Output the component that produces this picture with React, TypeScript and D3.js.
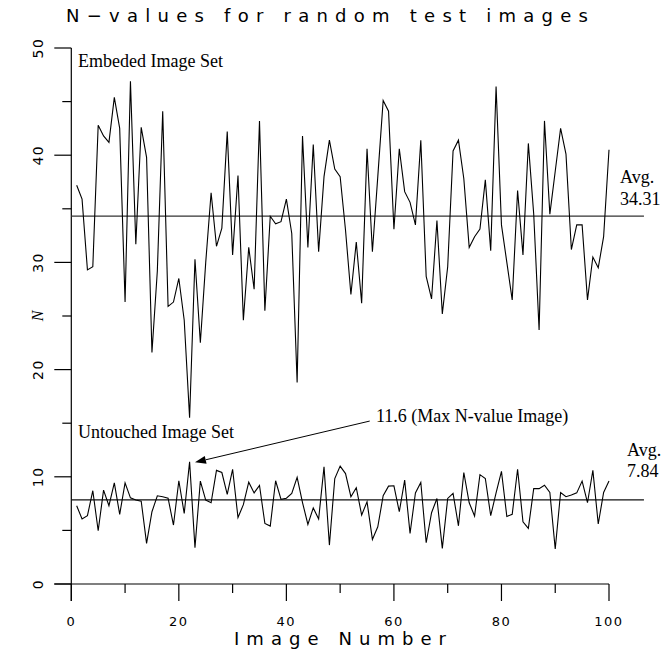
import React from 'react';
import * as d3 from 'd3';

// N-values, image numbers 1..100
const embeddedValues = [
  37.2, 35.9, 29.3, 29.6, 42.8, 41.8, 41.2, 45.4, 42.5, 26.3,
  46.9, 31.7, 42.6, 39.8, 21.6, 29.2, 44.1, 25.9, 26.3, 28.5,
  24.6, 15.5, 30.3, 22.5, 30.0, 36.5, 31.5, 33.2, 42.2, 30.7,
  38.1, 24.6, 31.4, 27.5, 43.2, 25.5, 34.3, 33.6, 33.8, 35.9,
  32.7, 18.8, 41.8, 31.4, 41.0, 31.0, 38.0, 41.4, 38.7, 38.0,
  33.0, 27.0, 31.9, 26.2, 40.6, 31.0, 38.0, 45.1, 44.1, 33.1,
  40.6, 36.6, 35.6, 33.5, 41.4, 28.7, 26.6, 33.9, 25.2, 29.6,
  40.4, 41.4, 37.8, 31.4, 32.4, 33.1, 37.7, 31.1, 46.4, 33.5,
  30.0, 26.5, 36.7, 30.7, 41.1, 34.5, 23.7, 43.2, 34.5, 38.5,
  42.5, 40.1, 31.2, 33.5, 33.5, 26.5, 30.5, 29.5, 32.4, 40.5,
];

const untouchedValues = [
  7.3, 6.06, 6.37, 8.7, 4.97, 8.76, 7.3, 9.44, 6.5, 9.44,
  8.04, 7.83, 7.73, 3.79, 6.74, 8.23, 8.14, 8.0, 5.5, 9.63,
  6.58, 11.4, 3.39, 9.6, 7.83, 7.58, 10.6, 10.4, 8.35, 10.7,
  6.2, 7.4, 9.5, 8.5, 9.2, 5.65, 5.4, 9.63, 7.9, 8.0,
  8.45, 9.94, 7.6, 5.56, 7.1, 6.06, 10.93, 3.63, 9.84, 11.0,
  10.3, 8.14, 8.98, 6.43, 7.67, 4.16, 5.34, 8.23, 9.13, 9.16,
  6.74, 9.69, 4.72, 8.5, 9.47, 3.85, 6.65, 7.98, 3.32, 7.98,
  8.45, 5.43, 10.4, 7.58, 6.34, 10.2, 9.84, 6.37, 8.5, 10.5,
  6.3, 6.5, 10.7, 5.8, 5.19, 8.9, 8.9, 9.22, 8.54, 3.26,
  8.54, 8.14, 8.3, 8.5, 9.6, 7.58, 10.6, 5.6, 8.54, 9.6,
];

const embeddedAvg = 34.31;
const untouchedAvg = 7.84;

const xMajorTicks = [0, 20, 40, 60, 80, 100];
const xMinorTicks = [10, 30, 50, 70, 90];
const yMajorTicks = [0, 10, 20, 30, 40, 50];
const yMinorTicks = [5, 15, 25, 35, 45];

const titleText = 'N\u2212values for random test images';
const xTitle = 'Image Number';
const yTitle = 'N';
const embeddedLabel = 'Embeded Image Set';
const untouchedLabel = 'Untouched Image Set';
const maxLabel = '11.6 (Max N-value Image)';

export default function App() {
  const W = 663;
  const H = 650;
  const x = d3.scaleLinear().domain([0, 100]).range([71.3, 609]);
  const y = d3.scaleLinear().domain([0, 50]).range([584, 48]);

  const line = d3
    .line<number>()
    .x((_, i) => x(i + 1))
    .y((d) => y(d));

  const majorLen = 17;
  const minorLen = 9;
  const tickFont = '"DejaVu Sans", sans-serif';
  const serif = '"Liberation Serif", "Times New Roman", serif';

  const avgEnd = x(106.5);

  // annotation arrow in data units
  const arrowFrom = [55.5, 15.2];
  const arrowTo = [23.0, 11.35];
  const ax1 = x(arrowFrom[0]);
  const ay1 = y(arrowFrom[1]);
  const ax2 = x(arrowTo[0]);
  const ay2 = y(arrowTo[1]);
  const ang = Math.atan2(ay2 - ay1, ax2 - ax1);
  const headLen = 11;
  const headW = 4;
  const bx = ax2 - headLen * Math.cos(ang);
  const by = ay2 - headLen * Math.sin(ang);
  const px = -Math.sin(ang) * headW;
  const py = Math.cos(ang) * headW;

  return (
    <svg
      width={W}
      height={H}
      style={{ position: 'absolute', left: 0, top: 0, background: '#fff' }}
    >
      <rect x={0} y={0} width={W} height={H} fill="#fff" />
      {/* title */}
      <text
        x={66}
        y={22}
        fontFamily={tickFont}
        fontSize={18}
        textLength={522}
        lengthAdjust="spacing"
        fill="#000"
      >
        {titleText}
      </text>

      {/* axes */}
      <line x1={x(0)} x2={x(0)} y1={y(50)} y2={y(0) + majorLen} stroke="#000" strokeWidth={1.2} />
      <line x1={x(0) - majorLen} x2={x(100)} y1={y(0)} y2={y(0)} stroke="#000" strokeWidth={1.2} />

      {xMajorTicks.map((t) => (
        <g key={'xm' + t}>
          <line x1={x(t)} x2={x(t)} y1={y(0)} y2={y(0) + majorLen} stroke="#000" strokeWidth={1.2} />
          <text
            x={x(t)}
            y={626}
            textAnchor="middle"
            fontFamily={tickFont}
            fontSize={13}
            letterSpacing={1.5}
            fill="#000"
          >
            {t}
          </text>
        </g>
      ))}
      {xMinorTicks.map((t) => (
        <line key={'xn' + t} x1={x(t)} x2={x(t)} y1={y(0)} y2={y(0) + minorLen} stroke="#000" strokeWidth={1.2} />
      ))}
      {yMajorTicks.map((t) => (
        <g key={'ym' + t}>
          <line x1={x(0) - majorLen} x2={x(0)} y1={y(t)} y2={y(t)} stroke="#000" strokeWidth={1.2} />
          <text
            transform={`translate(43,${y(t)}) rotate(-90)`}
            textAnchor="middle"
            fontFamily={tickFont}
            fontSize={14}
            letterSpacing={1.5}
            fill="#000"
          >
            {t}
          </text>
        </g>
      ))}
      {yMinorTicks.map((t) => (
        <line key={'yn' + t} x1={x(0) - minorLen} x2={x(0)} y1={y(t)} y2={y(t)} stroke="#000" strokeWidth={1.2} />
      ))}

      {/* axis titles */}
      <text
        x={340}
        y={645}
        textAnchor="middle"
        fontFamily={tickFont}
        fontSize={18}
        textLength={212}
        lengthAdjust="spacing"
        fill="#000"
      >
        {xTitle}
      </text>
      <text
        transform={`translate(43,${y(25)}) rotate(-90)`}
        textAnchor="middle"
        fontFamily={serif}
        fontStyle="italic"
        fontSize={16}
        fill="#000"
      >
        {yTitle}
      </text>

      {/* average lines */}
      <line x1={x(0)} x2={avgEnd} y1={y(embeddedAvg)} y2={y(embeddedAvg)} stroke="#333" strokeWidth={1.2} />
      <line x1={x(0)} x2={avgEnd} y1={y(untouchedAvg)} y2={y(untouchedAvg)} stroke="#111" strokeWidth={1.2} />

      {/* series */}
      <path d={line(embeddedValues) || ''} fill="none" stroke="#000" strokeWidth={1.1} />
      <path d={line(untouchedValues) || ''} fill="none" stroke="#000" strokeWidth={1.1} />

      {/* labels */}
      <text x={78} y={67} fontFamily={serif} fontSize={18} fill="#000">
        {embeddedLabel}
      </text>
      <text x={78} y={438} fontFamily={serif} fontSize={18} fill="#000">
        {untouchedLabel}
      </text>
      <text x={376} y={422} fontFamily={serif} fontSize={18} fill="#000">
        {maxLabel}
      </text>
      <text x={620} y={183} fontFamily={serif} fontSize={18} fill="#000">
        Avg.
      </text>
      <text x={620} y={205} fontFamily={serif} fontSize={18} fill="#000">
        {embeddedAvg.toFixed(2)}
      </text>
      <text x={627} y={456} fontFamily={serif} fontSize={18} fill="#000">
        Avg.
      </text>
      <text x={627} y={477} fontFamily={serif} fontSize={18} fill="#000">
        {untouchedAvg.toFixed(2)}
      </text>

      {/* arrow */}
      <line x1={ax1} y1={ay1} x2={bx} y2={by} stroke="#000" strokeWidth={1} />
      <path
        d={`M${ax2},${ay2} L${bx + px},${by + py} L${bx - px},${by - py} Z`}
        fill="#000"
      />
    </svg>
  );
}
